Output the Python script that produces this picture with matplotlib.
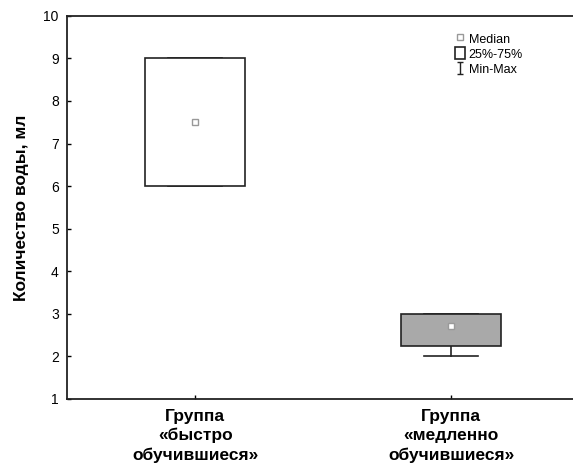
import numpy as np
import matplotlib.pyplot as plt
from matplotlib.patches import Rectangle, Patch
from matplotlib.lines import Line2D
from matplotlib.path import Path

plt.rcParams['font.family'] = ['Liberation Sans', 'DejaVu Sans']

groups = ["Группа\n«быстро\nобучившиеся»", "Группа\n«медленно\nобучившиеся»"]
medians = [7.5, 2.72]
q25 = [6.0, 2.25]
q75 = [9.0, 3.0]
mins = [6.0, 2.0]
maxs = [9.0, 3.0]
box_colors = ['white', '#a9a9a9']

fig = plt.figure(figsize=(5.73, 4.67), dpi=100)
ax = fig.add_axes([0.117, 0.146, 0.894, 0.820])

x = np.arange(len(groups))
bw = 0.39
cw = 0.21
for i in x:
    # whiskers
    ax.plot([i, i], [mins[i], q25[i]], color='#222222', lw=1.2, zorder=2)
    ax.plot([i, i], [q75[i], maxs[i]], color='#222222', lw=1.2, zorder=2)
    ax.plot([i - cw / 2, i + cw / 2], [mins[i]] * 2, color='#222222', lw=1.2, zorder=2)
    ax.plot([i - cw / 2, i + cw / 2], [maxs[i]] * 2, color='#222222', lw=1.2, zorder=2)
    ax.add_patch(Rectangle((i - bw / 2, q25[i]), bw, q75[i] - q25[i],
                           facecolor=box_colors[i], edgecolor='#222222', lw=1.2, zorder=3))
    ax.plot(i, medians[i], marker='s', ms=5, mfc='white', mec='#999999', mew=1, zorder=4)

ax.set_xlim(-0.5, 1.5)
ax.set_ylim(1, 10)
ax.set_yticks(range(1, 11))
ax.set_xticks(x)
ax.set_xticklabels(groups, fontsize=12.5, fontweight='bold', linespacing=1.35)
ax.tick_params(axis='y', labelsize=10, length=3, direction='in', width=1, pad=6)
ax.tick_params(axis='x', length=3, direction='in', width=1, pad=7)
ax.set_ylabel("Количество воды, мл", fontsize=12.5, fontweight='bold', labelpad=10)

for s in ['left', 'bottom', 'top']:
    ax.spines[s].set_linewidth(1.3)
    ax.spines[s].set_color('#222222')
ax.spines['right'].set_visible(False)

ibeam = Path([(-0.5, 1), (0.5, 1), (0, 1), (0, -1), (-0.5, -1), (0.5, -1)],
             [Path.MOVETO, Path.LINETO, Path.MOVETO, Path.LINETO, Path.MOVETO, Path.LINETO])
handles = [
    Line2D([], [], marker='s', ls='none', ms=4, mfc='white', mec='#999999', mew=1),
    Patch(facecolor='white', edgecolor='#222222', lw=1.2),
    Line2D([], [], marker=ibeam, ls='none', ms=9, mec='#222222', mew=1, fillstyle='none'),
]
ax.legend(handles, ['Median', '25%-75%', 'Min-Max'], loc='upper left',
          bbox_to_anchor=(0.74, 0.98), frameon=False, fontsize=9,
          handlelength=0.8, handleheight=1.1, handletextpad=0.3,
          labelspacing=0.15, borderpad=0.2)

fig.savefig('out.png', dpi=100)
